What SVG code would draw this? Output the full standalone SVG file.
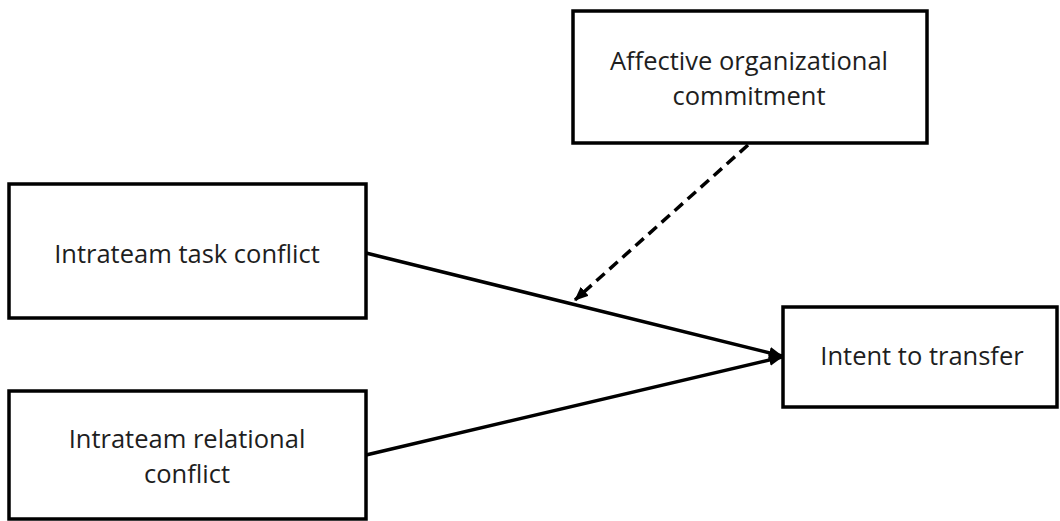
<svg xmlns="http://www.w3.org/2000/svg" width="1060" height="521" viewBox="0 0 1060 521">
<style>
.box{fill:#fff;stroke:#000;stroke-width:3.5}
.lbl{font-family:"Open Sans","Noto Sans",sans-serif;font-size:25.5px;fill:#1e1e1e;text-anchor:middle}
.ln{stroke:#000;stroke-width:3.5;fill:none}
.dash{stroke-dasharray:11 6.5}
</style>
<defs>
<marker id="ah" markerUnits="userSpaceOnUse" markerWidth="14" markerHeight="12" refX="13" refY="6" orient="auto">
<path d="M0,0 L14,6 L0,12 Z" fill="#000"/>
</marker>
</defs>
<rect width="1060" height="521" fill="#fff"/>
<g id="task">
<rect class="box" x="9" y="184" width="357" height="134"/>
<text class="lbl" x="187" y="263">Intrateam task conflict</text>
</g>
<g id="relational">
<rect class="box" x="9" y="391" width="357" height="128"/>
<text class="lbl" x="187" y="448">Intrateam relational</text>
<text class="lbl" x="187" y="483">conflict</text>
</g>
<g id="commitment">
<rect class="box" x="573" y="11" width="354" height="132"/>
<text class="lbl" x="749" y="70">Affective organizational</text>
<text class="lbl" x="749" y="105">commitment</text>
</g>
<g id="intent">
<rect class="box" x="783" y="307" width="274" height="100"/>
<text class="lbl" x="922" y="365">Intent to transfer</text>
</g>
<g id="connectors">
<line class="ln" x1="366" y1="253" x2="782" y2="356" marker-end="url(#ah)"/>
<line class="ln" x1="366" y1="455" x2="782" y2="357" marker-end="url(#ah)"/>
<line class="ln dash" x1="748" y1="145" x2="575" y2="300" marker-end="url(#ah)"/>
</g>
</svg>
